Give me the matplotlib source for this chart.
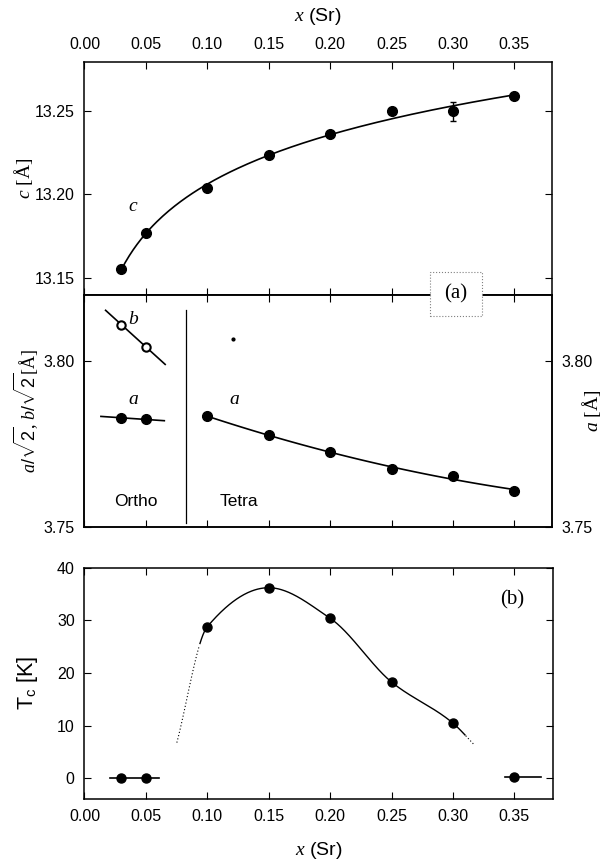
import numpy as np
import matplotlib
matplotlib.use('Agg')
import matplotlib.pyplot as plt
from matplotlib.patches import Rectangle

plt.rcParams['font.family'] = 'Liberation Sans'
plt.rcParams['mathtext.fontset'] = 'custom'
plt.rcParams['mathtext.it'] = 'Liberation Serif:italic'
plt.rcParams['mathtext.rm'] = 'Liberation Sans'
plt.rcParams['mathtext.cal'] = 'Liberation Serif'

# --- данные ---
x_sr = [0.03, 0.05, 0.10, 0.15, 0.20, 0.25, 0.30, 0.35]
c_vals = [13.1554, 13.177, 13.204, 13.2234, 13.236, 13.25, 13.2496, 13.2587]
c_err = [0, 0, 0, 0, 0, 0.0015, 0.0057, 0]

ortho_x = [0.03, 0.05]
ortho_a = [3.7829, 3.7824]
ortho_b = [3.8109, 3.8042]
ortho_a_span = [0.0134, 0.065]
ortho_b_span = [0.0172, 0.0657]

tetra_x = [0.10, 0.15, 0.20, 0.25, 0.30, 0.35]
tetra_a = [3.7834, 3.7777, 3.7726, 3.7675, 3.7653, 3.761]

stray_x = [0.121]
stray_y = [3.8066]
phase_border = 0.0829

tc_vals = [0, 0, 28.8, 36.2, 30.4, 18.3, 10.5, 0.3]
tc_zero_spans = [[0.0204, 0.0609], [0.342, 0.3719]]
tc_curve_x = [0.0752, 0.10, 0.15, 0.20, 0.25, 0.30, 0.3177]
tc_curve_y = [6.8, 28.8, 36.2, 30.4, 18.3, 10.5, 6.3]
tc_solid = [0.0937, 0.310]

xticks = [0.00, 0.05, 0.10, 0.15, 0.20, 0.25, 0.30, 0.35]


def pchip(xk, yk, xs):
    # монотонная кубическая интерполяция (Fritsch-Carlson)
    xk = np.asarray(xk, float)
    yk = np.asarray(yk, float)
    h = np.diff(xk)
    dlt = np.diff(yk) / h
    n = len(xk)
    m = np.zeros(n)
    for i in range(1, n - 1):
        if dlt[i - 1] * dlt[i] > 0:
            w1 = 2 * h[i] + h[i - 1]
            w2 = h[i] + 2 * h[i - 1]
            m[i] = (w1 + w2) / (w1 / dlt[i - 1] + w2 / dlt[i])
    m[0] = dlt[0]
    m[-1] = dlt[-1]
    out = []
    for x in xs:
        i = min(max(np.searchsorted(xk, x) - 1, 0), n - 2)
        t = (x - xk[i]) / h[i]
        h00 = 2 * t ** 3 - 3 * t ** 2 + 1
        h10 = t ** 3 - 2 * t ** 2 + t
        h01 = -2 * t ** 3 + 3 * t ** 2
        h11 = t ** 3 - t ** 2
        out.append(h00 * yk[i] + h10 * h[i] * m[i] + h01 * yk[i + 1] + h11 * h[i] * m[i + 1])
    return np.array(out)


fig = plt.figure(figsize=(6.13, 8.65), dpi=100)

ax1 = fig.add_axes([0.1378, 0.6590, 0.7622, 0.2694])
ax2 = fig.add_axes([0.1378, 0.3904, 0.7622, 0.2686])
ax3 = fig.add_axes([0.1378, 0.0763, 0.7648, 0.2674])

ms = 7
lw = 1.2
fmt2 = matplotlib.ticker.FormatStrFormatter('%.2f')

# верхняя панель: c
xs = np.linspace(x_sr[0], x_sr[-1], 200)
p = np.polyfit(np.log(x_sr), c_vals, 2)
ax1.plot(xs, np.polyval(p, np.log(xs)), color='black', lw=lw)
ax1.errorbar(x_sr, c_vals, yerr=c_err, fmt='o', color='black', ms=ms,
             capsize=2.5, elinewidth=1, capthick=1)
ax1.set_xlim(0, 0.3804)
ax1.set_ylim(13.140, 13.279)
ax1.set_yticks([13.15, 13.20, 13.25])
ax1.set_xticks(xticks)
ax1.xaxis.tick_top()
ax1.tick_params(direction='in', top=True, bottom=True, left=True, right=True,
                labeltop=True, labelbottom=False, labelsize=11.5, pad=7, length=5)
ax1.xaxis.set_major_formatter(fmt2)
ax1.yaxis.set_major_formatter(fmt2)
ax1.set_xlabel('$x$ (Sr)', fontsize=14, labelpad=12)
ax1.xaxis.set_label_position('top')
ax1.set_ylabel('$c$ [Å]', fontsize=14, family='Liberation Serif', labelpad=0)
ax1.text(0.0396, 13.1928, 'c', fontsize=14, family='Liberation Serif',
         style='italic', ha='center', va='center')

# средняя панель: a, b
for span, vals, filled in [(ortho_b_span, ortho_b, False), (ortho_a_span, ortho_a, True)]:
    k = np.polyfit(ortho_x, vals, 1)
    ax2.plot(span, np.polyval(k, span), color='black', lw=lw)
    if filled:
        ax2.plot(ortho_x, vals, 'o', color='black', ms=ms)
    else:
        ax2.plot(ortho_x, vals, 'o', mfc='white', mec='black', mew=1.5, ms=6)

xt = np.linspace(tetra_x[0], tetra_x[-1], 100)
q = np.polyfit(tetra_x, tetra_a, 2)
ax2.plot(xt, np.polyval(q, xt), color='black', lw=lw)
ax2.plot(tetra_x, tetra_a, 'o', color='black', ms=ms)
ax2.plot(stray_x, stray_y, 'o', color='black', ms=2)
ax2.axvline(phase_border, ymin=0.0174, ymax=0.935, color='black', lw=0.9)

ax2.text(0.0396, 3.8125, 'b', fontsize=14, family='Liberation Serif', style='italic', ha='center', va='center')
ax2.text(0.0396, 3.7885, 'a', fontsize=14, family='Liberation Serif', style='italic', ha='center', va='center')
ax2.text(0.1217, 3.7885, 'a', fontsize=14, family='Liberation Serif', style='italic', ha='center', va='center')
ax2.text(0.042, 3.7577, 'Ortho', fontsize=12.5, ha='center', va='center')
ax2.text(0.126, 3.7577, 'Tetra', fontsize=12.5, ha='center', va='center')

ax2.set_xlim(0, 0.3804)
ax2.set_ylim(3.75, 3.8198)
ax2.set_xticks(xticks)
ax2.set_yticks([3.75, 3.80])
ax2.yaxis.set_major_formatter(fmt2)
ax2.set_ylabel(r'$a/\sqrt{2}$, $b/\sqrt{2}$[Å]', fontsize=13,
               family='Liberation Serif', labelpad=2)
ax2r = ax2.twinx()
ax2r.set_ylim(ax2.get_ylim())
ax2r.set_yticks([3.75, 3.80])
ax2r.yaxis.set_major_formatter(fmt2)
ax2r.tick_params(direction='in', labelsize=11.5, pad=7, length=5)
ax2r.text(1.086, 0.5, '$a$ [Å]', transform=ax2r.transAxes, fontsize=14,
          family='Liberation Serif', rotation=90, ha='center', va='center')
ax2.tick_params(direction='in', top=True, bottom=True, left=True, right=False,
                labelbottom=False, labelsize=11.5, pad=7, length=5)

# нижняя панель: Tc
xc = np.linspace(tc_curve_x[0], tc_curve_x[-1], 400)
yc = pchip(tc_curve_x, tc_curve_y, xc)
solid = (xc >= tc_solid[0]) & (xc <= tc_solid[1])
ax3.plot(xc[solid], yc[solid], color='black', lw=1.0)
ax3.plot(xc[xc <= tc_solid[0]], yc[xc <= tc_solid[0]], color='black', lw=0.8, ls=(0, (1, 2)))
ax3.plot(xc[xc >= tc_solid[1]], yc[xc >= tc_solid[1]], color='black', lw=0.8, ls=(0, (1, 2)))
ax3.plot(tc_zero_spans[0], [tc_vals[0]] * 2, color='black', lw=lw)
ax3.plot(tc_zero_spans[1], [tc_vals[-1]] * 2, color='black', lw=lw)
ax3.plot(x_sr, tc_vals, 'o', color='black', ms=6.5)
ax3.text(0.3486, 33.9, '(b)', fontsize=15, family='Liberation Serif', ha='center', va='center')

ax3.set_xlim(0, 0.3817)
ax3.set_ylim(-3.9, 40)
ax3.set_xticks(xticks)
ax3.set_yticks([0, 10, 20, 30, 40])
ax3.xaxis.set_major_formatter(fmt2)
ax3.tick_params(direction='in', top=True, bottom=True, left=True, right=True,
                labelsize=11.5, pad=7, length=5)
ax3.set_xlabel('$x$ (Sr)', fontsize=14, labelpad=12)
ax3.set_ylabel(r'T$_\mathrm{c}$ [K]', fontsize=15.5, labelpad=12)

for ax in (ax1, ax2, ax2r, ax3):
    for s in ax.spines.values():
        s.set_linewidth(1.1)

# рамка с (a) на границе панелей
fig.patches.append(Rectangle((430 / 613, 1 - 316 / 865), 52 / 613, 44 / 865,
                             transform=fig.transFigure, fc='white', ec='gray',
                             ls=':', lw=0.8, zorder=5))
fig.text(456 / 613, 1 - 294 / 865, '(a)', fontsize=15, family='Liberation Serif',
         ha='center', va='center', zorder=6)

plt.savefig('out.png', dpi=100)
plt.close()
